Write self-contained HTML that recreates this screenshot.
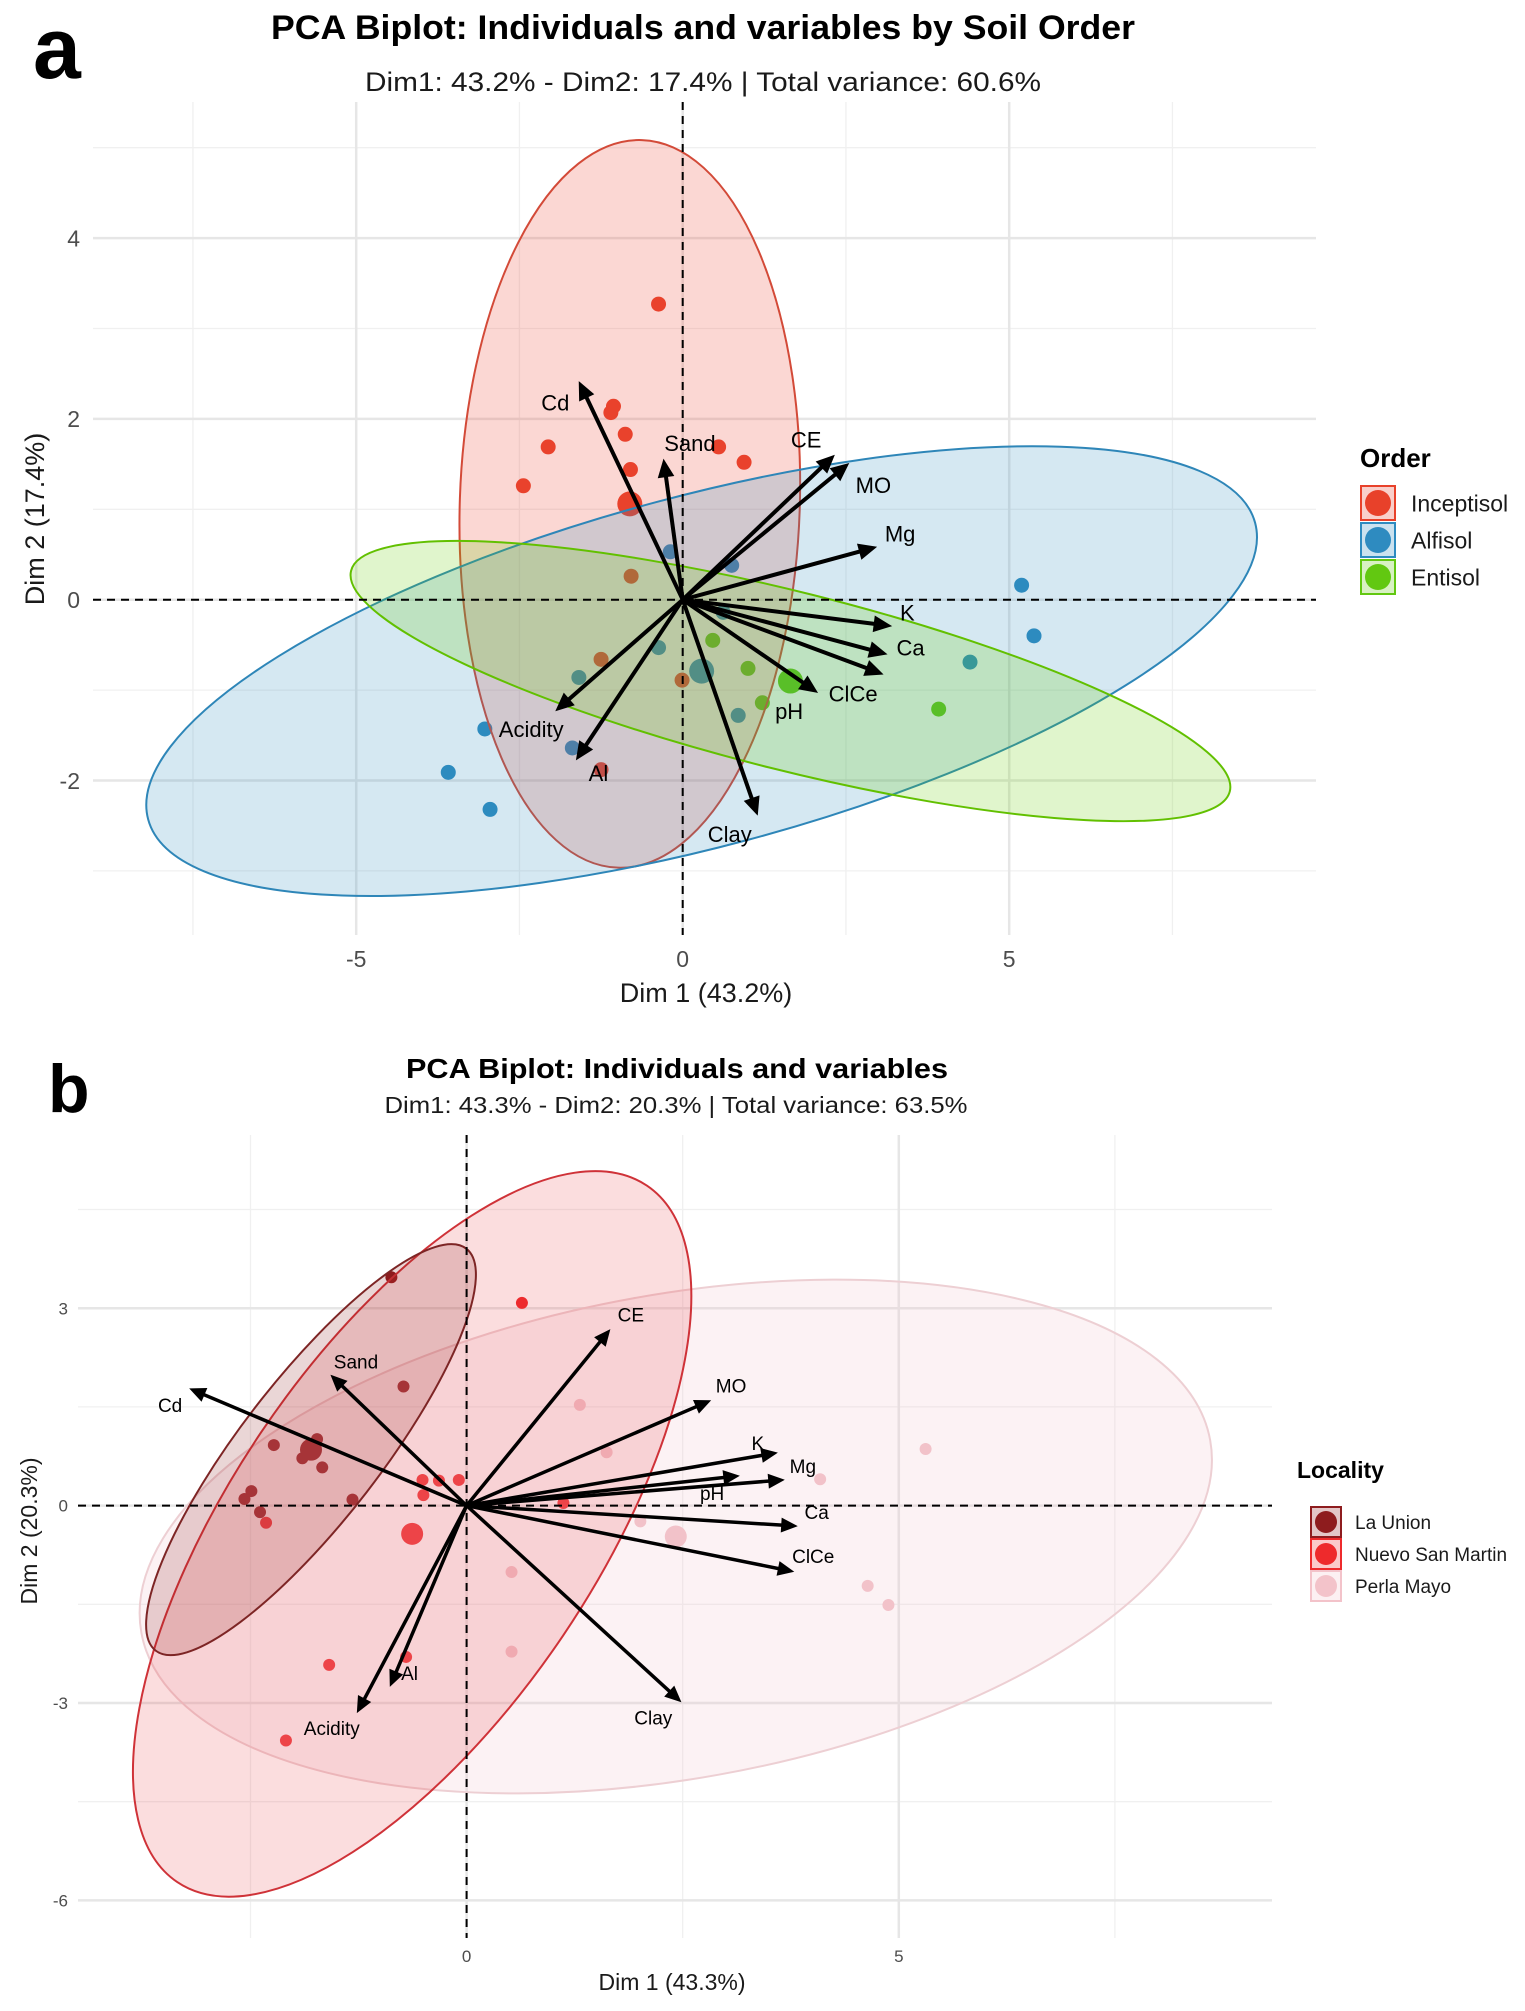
<!DOCTYPE html>
<html><head><meta charset="utf-8"><style>
html,body{margin:0;padding:0;background:#fff;}
svg{display:block;font-family:"Liberation Sans",Arial,sans-serif;}
</style></head><body>
<svg id="fig" xmlns="http://www.w3.org/2000/svg" width="1525" height="2011" viewBox="0 0 1525 2011">
<rect x="0" y="0" width="1525" height="2011" fill="#fff"/>
<g id="panelA">
<g id="gridA"></g>
<g id="pointsA"></g>
<g id="ellA"></g>
<g id="axesA"></g>
<g id="arrA"></g>
<text x="33" y="78" font-size="86" font-weight="bold">a</text>
<text x="703" y="39" font-size="34" font-weight="bold" text-anchor="middle" textLength="864" lengthAdjust="spacingAndGlyphs">PCA Biplot: Individuals and variables by Soil Order</text>
<text x="703" y="91" font-size="27" text-anchor="middle" textLength="676" lengthAdjust="spacingAndGlyphs" fill="#1a1a1a">Dim1: 43.2% - Dim2: 17.4% | Total variance: 60.6%</text>
<text x="706" y="1002" font-size="27" text-anchor="middle" fill="#1a1a1a">Dim 1 (43.2%)</text>
<text x="0" y="0" font-size="27" text-anchor="middle" fill="#1a1a1a" transform="translate(44,519) rotate(-90)">Dim 2 (17.4%)</text>
<g>
<text x="1360" y="467" font-size="26" font-weight="bold">Order</text>
<g id="legA"></g>
</g>
</g>
<g id="panelB">
<g id="gridB"></g>
<g id="pointsB"></g>
<g id="ellB"></g>
<g id="axesB"></g>
<g id="arrB"></g>
<text x="48" y="1112" font-size="68" font-weight="bold">b</text>
<text x="677" y="1078" font-size="28" font-weight="bold" text-anchor="middle" textLength="542" lengthAdjust="spacingAndGlyphs">PCA Biplot: Individuals and variables</text>
<text x="676" y="1113" font-size="23" text-anchor="middle" textLength="583" lengthAdjust="spacingAndGlyphs" fill="#1a1a1a">Dim1: 43.3% - Dim2: 20.3% | Total variance: 63.5%</text>
<text x="672" y="1990" font-size="23" text-anchor="middle" fill="#1a1a1a">Dim 1 (43.3%)</text>
<text x="0" y="0" font-size="23" text-anchor="middle" fill="#1a1a1a" transform="translate(37,1531) rotate(-90)">Dim 2 (20.3%)</text>
<g>
<text x="1297" y="1478" font-size="23" font-weight="bold">Locality</text>
<g id="legB"></g>
</g>
</g>
</svg>
<script>
// ---------- Panel A data ----------
var groupsA = ["Inceptisol","Alfisol","Entisol"];
var colorsA = ["#E8412A","#2E8BC0","#62C811"];
var inceptX = [-0.37,-1.06,-1.10,-0.88,-2.06,0.55,0.94,-0.80,-2.44,-0.79,-1.25,-0.01,-1.25];
var inceptY = [3.27,2.14,2.07,1.83,1.69,1.69,1.52,1.44,1.26,0.26,-0.66,-0.89,-1.88];
var alfiX = [-0.19,0.75,5.19,5.38,4.40,-0.37,-1.59,0.85,-3.03,-1.69,-3.59,-2.95,0.62];
var alfiY = [0.53,0.38,0.16,-0.40,-0.69,-0.53,-0.86,-1.28,-1.43,-1.64,-1.91,-2.32,-0.14];
var entiX = [0.46,1.00,1.22,3.92];
var entiY = [-0.45,-0.76,-1.14,-1.21];
var centroidAX = [-0.81,0.29,1.65];
var centroidAY = [1.06,-0.79,-0.90];
var varNamesA = ["Cd","Sand","CE","MO","Mg","K","Ca","ClCe","pH","Acidity","Al","Clay"];
var varXA = [-1.58,-0.29,2.31,2.53,2.95,3.18,3.11,3.05,2.05,-1.93,-1.62,1.14];
var varYA = [2.40,1.54,1.59,1.50,0.58,-0.29,-0.60,-0.82,-1.02,-1.22,-1.76,-2.37];
var labelXA = [-1.95,0.11,1.89,2.92,3.33,3.44,3.49,2.61,1.63,-2.32,-1.29,0.72];
var labelYA = [2.18,1.73,1.77,1.27,0.73,-0.14,-0.53,-1.04,-1.23,-1.43,-1.92,-2.59];
var xTicksA = [-5,0,5];
var yTicksA = [-2,0,2,4];
var xMinorA = [-7.5,-2.5,2.5,7.5];
var yMinorA = [-3,-1,1,3,5];

// ---------- Panel B data ----------
var groupsB = ["La Union","Nuevo San Martin","Perla Mayo"];
var colorsB = ["#8E1C1E","#EE2A2C","#F3C3CA"];
var unionX = [-0.87,-0.73,-2.23,-1.73,-1.90,-1.67,-2.49,-2.57,-1.32,-2.39];
var unionY = [3.47,1.81,0.92,1.01,0.72,0.58,0.22,0.10,0.09,-0.10];
var nuevoX = [0.64,-0.51,-0.32,-0.09,-0.50,-2.32,1.12,-1.59,-2.09,-0.70];
var nuevoY = [3.08,0.39,0.38,0.39,0.16,-0.26,0.04,-2.42,-3.57,-2.30];
var perlaX = [1.31,1.62,4.09,2.01,0.52,0.52,4.64,4.88,5.31];
var perlaY = [1.53,0.81,0.40,-0.24,-1.01,-2.22,-1.22,-1.51,0.86];
var centroidBX = [-1.80,-0.63,2.42];
var centroidBY = [0.85,-0.43,-0.47];
var varNamesB = ["Cd","Sand","CE","MO","K","pH","Mg","Ca","ClCe","Clay","Al","Acidity"];
var varXB = [-3.19,-1.56,1.65,2.81,3.58,3.14,3.66,3.81,3.77,2.47,-0.88,-1.26];
var varYB = [1.77,1.97,2.66,1.59,0.80,0.45,0.39,-0.31,-1.00,-2.97,-2.73,-3.13];
var labelXB = [-3.43,-1.28,1.90,3.06,3.37,2.84,3.89,4.05,4.01,2.16,-0.66,-1.56];
var labelYB = [1.53,2.19,2.90,1.82,0.95,0.19,0.60,-0.10,-0.77,-3.22,-2.55,-3.38];
var xTicksB = [0,5];
var yTicksB = [-6,-3,0,3];
var xMinorB = [-2.5,2.5,7.5];
var yMinorB = [-4.5,-1.5,1.5,4.5];

var NS = "http://www.w3.org/2000/svg";
function mk(tag, parent){ var e=document.createElementNS(NS,tag); parent.appendChild(e); return e; }
function set(e,k,v){ e.setAttribute(k,v); }

var A = {x0:682.7, sx:65.3, y0:599.7, sy:90.4, left:93, right:1316, top:102, bottom:935};
var B = {x0:466.6, sx:86.44, y0:1505.6, sy:65.8, left:78, right:1272, top:1135, bottom:1938};
function sxA(v){ return A.x0 + v*A.sx; }
function syA(v){ return A.y0 - v*A.sy; }
function sxB(v){ return B.x0 + v*B.sx; }
function syB(v){ return B.y0 - v*B.sy; }

function drawGrid(g, P, fx, fy, xMaj, yMaj, xMin, yMin, tickSize, tickY, tickX){
  xMin.forEach(function(v){
    var l=mk("line",g); set(l,"x1",fx(v)); set(l,"x2",fx(v)); set(l,"y1",P.top); set(l,"y2",P.bottom);
    set(l,"stroke","#F0F0F0"); set(l,"stroke-width","1.3");
    
    
  });
  yMin.forEach(function(v){
    var y=fy(v); if(y<P.top||y>P.bottom) return;
    var l=mk("line",g); set(l,"x1",P.left); set(l,"x2",P.right); set(l,"y1",y); set(l,"y2",y);
    set(l,"stroke","#F0F0F0"); set(l,"stroke-width","1.3");
    
    
  });
  xMaj.forEach(function(v){
    var l=mk("line",g); set(l,"x1",fx(v)); set(l,"x2",fx(v)); set(l,"y1",P.top); set(l,"y2",P.bottom);
    set(l,"stroke","#E6E6E6"); set(l,"stroke-width","2.5");
    
    
    var t=mk("text",g); set(t,"x",fx(v)); set(t,"y",tickY); set(t,"font-size",tickSize); set(t,"fill","#4D4D4D"); set(t,"text-anchor","middle");
    t.textContent = String(v);
    
    
  });
  yMaj.forEach(function(v){
    var l=mk("line",g); set(l,"x1",P.left); set(l,"x2",P.right); set(l,"y1",fy(v)); set(l,"y2",fy(v));
    set(l,"stroke","#E6E6E6"); set(l,"stroke-width","2.5");
    
    
    var t=mk("text",g); set(t,"x",tickX); set(t,"y",fy(v)+tickSize*0.36); set(t,"font-size",tickSize); set(t,"fill","#4D4D4D"); set(t,"text-anchor","end");
    t.textContent = String(v);
    
    
  });
}

function drawZero(g, P, fx, fy){
  var h=mk("line",g); set(h,"x1",P.left); set(h,"x2",P.right); set(h,"y1",fy(0)); set(h,"y2",fy(0));
  set(h,"stroke","#000"); set(h,"stroke-width","2"); set(h,"stroke-dasharray","8,6");
  
  
  var v=mk("line",g); set(v,"x1",fx(0)); set(v,"x2",fx(0)); set(v,"y1",P.top); set(v,"y2",P.bottom);
  set(v,"stroke","#000"); set(v,"stroke-width","2"); set(v,"stroke-dasharray","8,6");
  
  
}

function drawPoints(g, xs, ys, color, r, fx, fy, name){
  for(var i=0;i<xs.length;i++){
    var c=mk("circle",g); set(c,"cx",fx(xs[i])); set(c,"cy",fy(ys[i])); set(c,"r",r); set(c,"fill",color);
    
    
  }
}

function drawEllipse(g, cx, cy, a, b, ang, color, stroke, fillOp, name){
  var e=mk("ellipse",g); set(e,"cx",cx); set(e,"cy",cy); set(e,"rx",a); set(e,"ry",b);
  set(e,"transform","rotate("+ang+" "+cx+" "+cy+")");
  set(e,"fill",color); set(e,"fill-opacity",fillOp); set(e,"stroke",stroke); set(e,"stroke-width","2");
  
  
}

function drawArrows(g, names, xs, ys, lx, ly, fx, fy, fs, sw, hl){
  var ox=fx(0), oy=fy(0);
  for(var i=0;i<names.length;i++){
    var ex=fx(xs[i]), ey=fy(ys[i]);
    var dx=ex-ox, dy=ey-oy, L=Math.sqrt(dx*dx+dy*dy), ux=dx/L, uy=dy/L;
    var ln=mk("line",g); set(ln,"x1",ox); set(ln,"y1",oy); set(ln,"x2",ex-ux*4); set(ln,"y2",ey-uy*4);
    set(ln,"stroke","#000"); set(ln,"stroke-width",sw);
    
    
    var px=-uy, py=ux, bx=ex-ux*hl, by=ey-uy*hl, w=hl*0.45;
    var hd=mk("polygon",g);
    set(hd,"points",ex+","+ey+" "+(bx+px*w)+","+(by+py*w)+" "+(bx-px*w)+","+(by-py*w));
    set(hd,"fill","#000"); set(hd,"stroke","#000"); set(hd,"stroke-width","1.5"); set(hd,"stroke-linejoin","miter");
    
    
    var t=mk("text",g); set(t,"x",fx(lx[i])); set(t,"y",fy(ly[i])+fs*0.36); set(t,"font-size",fs); set(t,"text-anchor","middle"); set(t,"fill","#000");
    t.textContent = names[i];
    
    
  }
}

function drawLegend(g, names, colors, x, ys, size, r, fs, tx){
  for(var i=0;i<names.length;i++){
    var s=mk("rect",g); set(s,"x",x); set(s,"y",ys[i]-size/2); set(s,"width",size); set(s,"height",size);
    set(s,"fill",colors[i]); set(s,"fill-opacity","0.25"); set(s,"stroke",colors[i]); set(s,"stroke-width","2");
    
    
    var c=mk("circle",g); set(c,"cx",x+size/2); set(c,"cy",ys[i]); set(c,"r",r); set(c,"fill",colors[i]);
    
    
    var t=mk("text",g); set(t,"x",tx); set(t,"y",ys[i]+fs*0.36); set(t,"font-size",fs); set(t,"fill","#1a1a1a");
    t.textContent = names[i];
    
    
  }
}

// ---- Panel A ----
drawGrid(document.getElementById("gridA"), A, sxA, syA, xTicksA, yTicksA, xMinorA, yMinorA, 23, 967, 80);
var pA=document.getElementById("pointsA");
drawPoints(pA, inceptX, inceptY, colorsA[0], 7.5, sxA, syA, 'point-inceptisol');
drawPoints(pA, alfiX, alfiY, colorsA[1], 7.5, sxA, syA, 'point-alfisol');
drawPoints(pA, entiX, entiY, colorsA[2], 7.5, sxA, syA, 'point-entisol');
for(var i=0;i<3;i++){ drawPoints(pA, [centroidAX[i]], [centroidAY[i]], colorsA[i], 12.5, sxA, syA, 'centroid-' + groupsA[i].toLowerCase()); }
var eA=document.getElementById("ellA");
drawEllipse(eA, sxA(centroidAX[0]), syA(centroidAY[0]), 170, 364, 1.9, "#EE4A35", "#D34A38", 0.22, 'ellipse-inceptisol');
drawEllipse(eA, sxA(centroidAX[1]), syA(centroidAY[1]), 573, 175, -15, "#2E8BC0", "#2E86B8", 0.2, 'ellipse-alfisol');
drawEllipse(eA, sxA(centroidAX[2]), syA(centroidAY[2]), 453, 89, 14.1, "#66CC00", "#62C000", 0.2, 'ellipse-entisol');
drawZero(document.getElementById("axesA"), A, sxA, syA);
drawArrows(document.getElementById("arrA"), varNamesA, varXA, varYA, labelXA, labelYA, sxA, syA, 22, 4, 16);
drawLegend(document.getElementById("legA"), groupsA, colorsA, 1361, [503,540,577], 34, 13, 23, 1411);

// ---- Panel B ----
drawGrid(document.getElementById("gridB"), B, sxB, syB, xTicksB, yTicksB, xMinorB, yMinorB, 17, 1962, 68);
var pB=document.getElementById("pointsB");
drawPoints(pB, unionX, unionY, colorsB[0], 6, sxB, syB, 'point-la-union');
drawPoints(pB, nuevoX, nuevoY, colorsB[1], 6, sxB, syB, 'point-nuevo-san-martin');
drawPoints(pB, perlaX, perlaY, colorsB[2], 6, sxB, syB, 'point-perla-mayo');
for(var j=0;j<3;j++){ drawPoints(pB, [centroidBX[j]], [centroidBY[j]], colorsB[j], 11, sxB, syB, 'centroid-' + groupsB[j].toLowerCase().replace(/ /g,'-')); }
var eB=document.getElementById("ellB");
drawEllipse(eB, sxB(centroidBX[2]), syB(centroidBY[2]), 543, 242, -10.2, "#F2C0C6", "#EDCFD3", 0.2, 'ellipse-perla-mayo');
drawEllipse(eB, sxB(centroidBX[1]), syB(centroidBY[1]), 420, 182, -56, "#E8333A", "#CF3238", 0.17, 'ellipse-nuevo-san-martin');
drawEllipse(eB, sxB(centroidBX[0]), syB(centroidBY[0]), 254, 70, -52.3, "#8B1A1A", "#7D2525", 0.18, 'ellipse-la-union');
drawZero(document.getElementById("axesB"), B, sxB, syB);
drawArrows(document.getElementById("arrB"), varNamesB, varXB, varYB, labelXB, labelYB, sxB, syB, 19, 3.5, 14);
drawLegend(document.getElementById("legB"), groupsB, colorsB, 1311, [1522,1554,1586], 30, 11, 19, 1355);
</script>
</body></html>
